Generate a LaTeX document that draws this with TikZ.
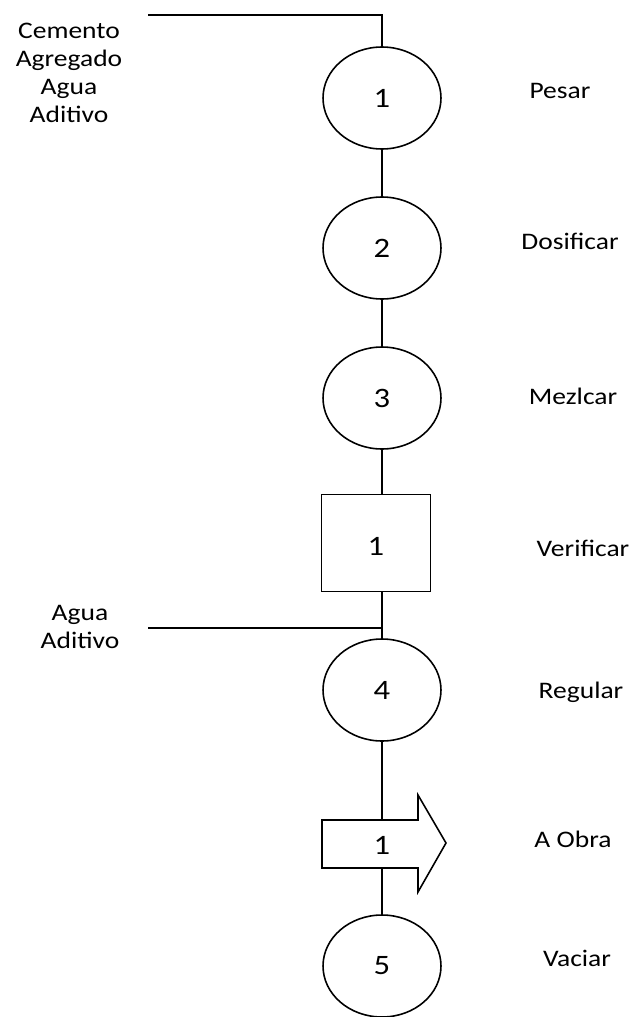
\documentclass[tikz,border=0pt]{standalone}
\usepackage{fontspec}
\setmainfont{Carlito}[FakeStretch=1.16]
\usetikzlibrary{shapes.geometric}

\begin{document}
\begin{tikzpicture}[x=0.02cm,y=-0.02cm,line width=0.9pt,
    oper/.style={draw,ellipse,minimum width=2.36cm,minimum height=2.04cm,inner sep=0pt,font=\fontsize{16}{18}\selectfont},
    insp/.style={draw,rectangle,minimum width=2.18cm,minimum height=1.94cm,inner sep=0pt},
    num/.style={font=\fontsize{16}{18}\selectfont},
    etiq/.style={font=\fontsize{13.5}{16}\selectfont,align=center,inner sep=0pt}]
            \useasboundingbox (0,0) rectangle (639,1017);

            % operaciones
            \node[oper] (op1) at (382,98) {1};
            \node[oper] (op2) at (382,248) {2};
            \node[oper] (op3) at (382,398) {3};
            \node[insp] (in1) at (376,543) {};
            \node[num] (in1n) at (376,546) {1};
            \node[oper] (op4) at (382,690) {4};
            \node[oper] (op5) at (382,966) {5};

            % transporte
            \draw (322,820) -- (418,820) -- (418,795) -- (446,843) -- (418,892)
                -- (418,868) -- (322,868) -- cycle;
            \node[num] (tr1) at (382,845) {1};
            \coordinate (tr1top) at (382,820);
            \coordinate (tr1bot) at (382,868);

            % entradas
            \coordinate (ent1) at (148,15);
            \coordinate (ent1c) at (382,15);
            \coordinate (ent2) at (148,628);
            \coordinate (ent2c) at (382,628);
            \node[etiq] (mat1) at (69,73) {Cemento\\Agregado\\Agua\\Aditivo};
            \node[etiq] (mat2) at (80,627) {Agua\\Aditivo};

            % lineas
            \draw (ent1) -- (ent1c) -- (op1.north);
            \draw (op1) -- (op2);
            \draw (op2) -- (op3);
            \draw (op3.south) -- (op3.south |- in1.north);
            \draw (op4.north |- in1.south) -- (op4.north);
            \draw (ent2) -- (ent2c);
            \draw (op4.south) -- (tr1top);
            \draw (tr1bot) -- (op5.north);

            % nombres
            \node[etiq,anchor=base] (n1) at (560,98) {Pesar};
            \node[etiq,anchor=base] (n2) at (570,249) {Dosificar};
            \node[etiq,anchor=base] (n3) at (573,404) {Mezlcar};
            \node[etiq,anchor=base] (n4) at (583,556) {Verificar};
            \node[etiq,anchor=base] (n5) at (581,698) {Regular};
            \node[etiq,anchor=base] (n6) at (573,847) {A Obra};
            \node[etiq,anchor=base] (n7) at (577,966) {Vaciar};
        \end{tikzpicture}
\end{document}
